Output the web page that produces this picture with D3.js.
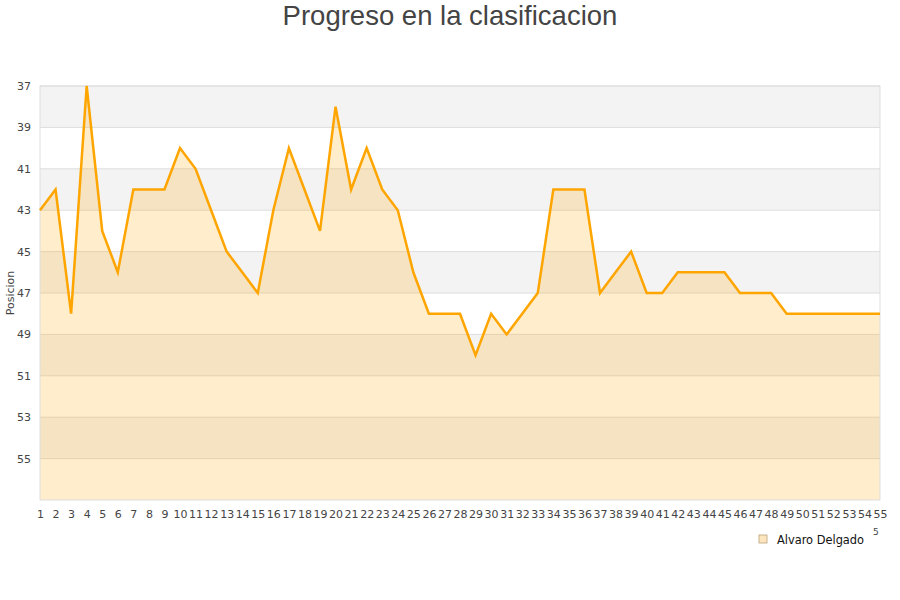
<!DOCTYPE html>
<html>
<head>
<meta charset="utf-8">
<script src="https://cdn.jsdelivr.net/npm/d3@7"></script>
<style>
  body { margin: 0; background: #fff; }
  svg text { font-family: "DejaVu Sans", sans-serif; }
</style>
</head>
<body>
<div id="graph"></div>
<script>
// posicion del jugador en cada jornada
const jornadas = d3.range(1, 56);
const posiciones = [43, 42, 48, 37, 44, 46, 42, 42, 42, 40,
                    41, 43, 45, 46, 47, 43, 40, 42, 44, 38,
                    42, 40, 42, 43, 46, 48, 48, 48, 50, 48,
                    49, 48, 47, 42, 42, 42, 47, 46, 45, 47,
                    47, 46, 46, 46, 46, 47, 47, 47, 48, 48,
                    48, 48, 48, 48, 48];
const yTicks = [37, 39, 41, 43, 45, 47, 49, 51, 53, 55];
const jugador = "Alvaro Delgado";
const titulo = "Progreso en la clasificacion";

const data = jornadas.map((j, i) => ({jornada: j, pos: posiciones[i]}));

const margin = {top: 86, right: 20, bottom: 100, left: 40};
const width = 900 - margin.left - margin.right;
const height = 600 - margin.top - margin.bottom;

const x = d3.scaleLinear()
    .domain([1, 55])
    .range([0, width]);

const y = d3.scaleLinear()
    .domain([37, 57])
    .range([0, height]);

const root = d3.select("#graph")
    .append("svg")
        .attr("width", 900)
        .attr("height", 600);

root.append("text")
    .attr("x", 450)
    .attr("y", 25)
    .attr("text-anchor", "middle")
    .style("font-family", "'Liberation Sans', Arial, sans-serif")
    .style("font-size", "27.5px")
    .attr("fill", "#444")
    .text(titulo);

const svg = root.append("g")
    .attr("transform", `translate(${margin.left}, ${margin.top})`);

// bandas alternas
const bands = d3.range(37, 57, 4);
svg.selectAll(".band")
    .data(bands)
    .join("rect")
        .attr("x", 0)
        .attr("width", width)
        .attr("y", d => y(d))
        .attr("height", d => y(d + 2) - y(d))
        .attr("fill", "#f3f3f3");

// lineas de rejilla
svg.selectAll(".grid")
    .data(yTicks)
    .join("line")
        .attr("x1", 0)
        .attr("x2", width)
        .attr("y1", d => y(d))
        .attr("y2", d => y(d))
        .attr("stroke", "#ddd");

const area = d3.area()
    .x(d => x(d.jornada))
    .y0(height)
    .y1(d => y(d.pos));

svg.append("path")
    .datum(data)
    .attr("fill", "orange")
    .attr("fill-opacity", 0.2)
    .attr("d", area);

// bordes
svg.append("rect")
    .attr("width", width)
    .attr("height", height)
    .attr("fill", "none")
    .attr("stroke", "#ddd");

const line = d3.line()
    .x(d => x(d.jornada))
    .y(d => y(d.pos));

svg.append("path")
    .datum(data)
    .attr("fill", "none")
    .attr("stroke", "orange")
    .attr("stroke-width", 2.5)
    .attr("d", line);

const yAxis = svg.append("g")
    .call(d3.axisLeft(y).tickValues(yTicks).tickSize(0).tickPadding(9));
yAxis.select(".domain").remove();
yAxis.selectAll("text")
    .style("font-family", "'DejaVu Sans', sans-serif")
    .style("font-size", "11px")
    .attr("fill", "#444");

const xAxis = svg.append("g")
    .attr("transform", `translate(0, ${height})`)
    .call(d3.axisBottom(x).tickValues(jornadas).tickFormat(d3.format("d")).tickSize(0).tickPadding(10));
xAxis.select(".domain").remove();
xAxis.selectAll("text")
    .style("font-family", "'DejaVu Sans', sans-serif")
    .style("font-size", "11px")
    .attr("fill", "#444");

root.append("text")
    .attr("transform", "translate(14, 293) rotate(-90)")
    .attr("text-anchor", "middle")
    .style("font-family", "'DejaVu Sans', sans-serif")
    .style("font-size", "11px")
    .attr("fill", "#444")
    .text("Posicion");

root.append("text")
    .attr("x", 873)
    .attr("y", 535)
    .style("font-family", "'DejaVu Sans', sans-serif")
    .style("font-size", "9px")
    .attr("fill", "#444")
    .text("5");

// leyenda
const legend = root.append("g")
    .attr("transform", "translate(759, 535)");
legend.append("rect")
    .attr("width", 8)
    .attr("height", 8)
    .attr("fill", "#fde6bd")
    .attr("stroke", "#b9a27a")
    .attr("stroke-width", 0.8);
legend.append("text")
    .attr("x", 18)
    .attr("y", 8.5)
    .style("font-family", "'DejaVu Sans', sans-serif")
    .style("font-size", "11.4px")
    .attr("fill", "#111")
    .text(jugador);
</script>
</body>
</html>
